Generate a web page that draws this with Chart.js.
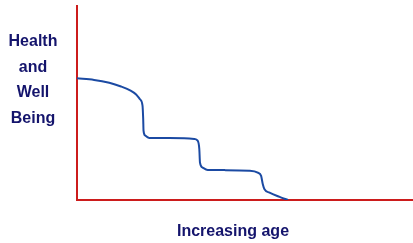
<!DOCTYPE html>
<html>
<head>
<meta charset="utf-8">
<script src="https://cdn.jsdelivr.net/npm/chart.js@4"></script>
<style>
html,body{margin:0;padding:0;background:#fff;}
canvas{display:block;}
</style>
</head>
<body>
<canvas id="c" width="413" height="243"></canvas>
<script>
// Data (arbitrary units: age 0-100, health 0-100)
const ageValues = [0, 5.1, 9.6, 13.1, 15.8, 17.6, 18.8, 19.5, 19.7, 19.8, 20.3, 21.5, 27.5, 31.9, 34.9, 35.9, 36.4, 36.6, 37.4, 38.9, 43.9, 51.3, 53.8, 54.8, 55.3, 55.8, 57.3, 60.3, 62.8];
const healthValues = [62.7, 61.9, 60.4, 58.5, 56.5, 54.4, 51.8, 48.7, 41.8, 35.8, 33.2, 32.0, 31.9, 31.8, 31.5, 30.6, 26.3, 19.3, 16.7, 15.5, 15.4, 15.1, 14.1, 12.4, 8.1, 5.5, 3.8, 1.6, 0];
const yLabelLines = ['Health', 'and', 'Well', 'Being'];
const xLabel = 'Increasing age';

const points = ageValues.map((a, i) => ({x: a, y: healthValues[i]}));

const textColor = '#14146c';
const axisColor = '#cc1c1c';

const labelPlugin = {
  id: 'labels',
  afterDraw(chart) {
    const ctx = chart.ctx;
    ctx.save();
    ctx.fillStyle = textColor;
    ctx.font = 'bold 16px "Liberation Sans", Arial, sans-serif';
    ctx.textAlign = 'center';
    ctx.textBaseline = 'alphabetic';
    const baselines = [46, 72, 97, 123];
    yLabelLines.forEach((t, i) => ctx.fillText(t, 33, baselines[i]));
    ctx.fillText(xLabel, 233, 236);
    ctx.restore();
  }
};

new Chart(document.getElementById('c'), {
  type: 'scatter',
  data: {
    datasets: [{
      data: points,
      showLine: true,
      borderColor: '#1b4aa3',
      borderWidth: 2,
      pointRadius: 0,
      cubicInterpolationMode: 'monotone',
      fill: false
    }]
  },
  options: {
    responsive: false,
    animation: false,
    layout: {padding: {left: 77, top: 6, right: 0, bottom: 43}},
    plugins: {legend: {display: false}, tooltip: {enabled: false}},
    scales: {
      x: {
        type: 'linear', min: 0, max: 100,
        grid: {display: false, drawTicks: false},
        ticks: {display: false},
        border: {display: true, color: axisColor, width: 2}
      },
      y: {
        type: 'linear', min: 0, max: 100,
        grid: {display: false, drawTicks: false},
        ticks: {display: false},
        border: {display: true, color: axisColor, width: 2}
      }
    }
  },
  plugins: [labelPlugin]
});
</script>
</body>
</html>
